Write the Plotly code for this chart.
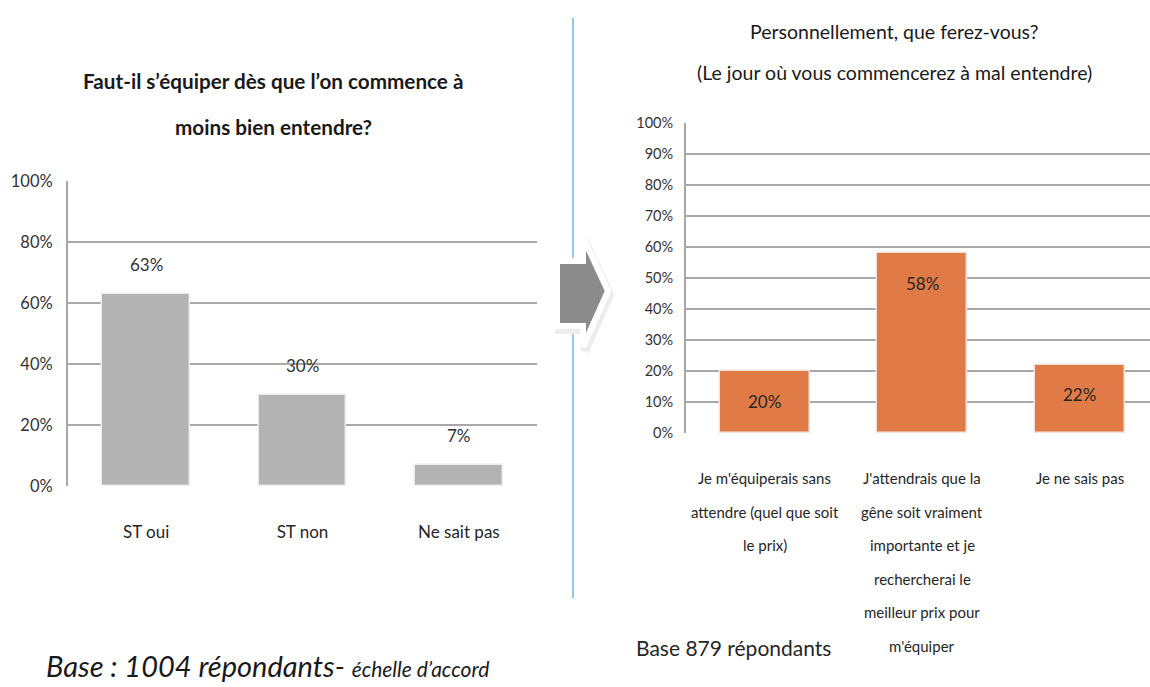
import plotly.graph_objects as go

W, H = 1150, 687
FONT = "Lato, Liberation Sans, sans-serif"

# left chart
q1_title = ["Faut-il s’équiper dès que l’on commence à", "moins bien entendre?"]
q1_categories = ["ST oui", "ST non", "Ne sait pas"]
q1_values = [63, 30, 7]
q1_ticks = [0, 20, 40, 60, 80, 100]
q1_note = "<i>Base : 1004 répondants- <span style='font-size:21px'>échelle d’accord</span></i>"

# right chart
q2_title = ["Personnellement, que ferez-vous?", "(Le jour où vous commencerez à mal entendre)"]
q2_categories = [
    "Je m'équiperais sans<br>attendre (quel que soit<br>le prix)",
    "J'attendrais que la<br>gêne soit vraiment<br>importante et je<br>rechercherai le<br>meilleur prix pour<br>m'équiper",
    "Je ne sais pas",
]
q2_values = [20, 58, 22]
q2_ticks = [0, 10, 20, 30, 40, 50, 60, 70, 80, 90, 100]
q2_note = "Base 879 répondants"


def fx(x):
    return x / W


def fy(y):
    return 1 - y / H


fig = go.Figure()

fig.add_trace(go.Bar(
    x=list(range(len(q1_values))), y=q1_values, width=0.56,
    marker=dict(color="#B3B3B3", line=dict(color="#EDEDED", width=1.5)),
    xaxis="x", yaxis="y", hoverinfo="skip",
))
fig.add_trace(go.Bar(
    x=list(range(len(q2_values))), y=q2_values, width=0.57,
    marker=dict(color="#E07B47", line=dict(color="#F3E3D9", width=1.5)),
    xaxis="x2", yaxis="y2", hoverinfo="skip",
))

grid = dict(showgrid=True, gridcolor="#A8A8A8", gridwidth=2, zeroline=False,
            showline=True, linecolor="#A8A8A8", linewidth=2, ticks="",
            fixedrange=True, automargin=False)

annotations = []
# titles
for i, line in enumerate(q1_title):
    annotations.append(dict(text=f"<b>{line}</b>", x=fx(273), y=fy(81 + 46 * i),
                            font=dict(size=20.7, color="#1A1A1A")))
for i, line in enumerate(q2_title):
    annotations.append(dict(text=line, x=fx(894), y=fy(32 + 40 * i),
                            font=dict(size=19.5, color="#1A1A1A")))
# value labels
for i, v in enumerate(q1_values):
    annotations.append(dict(text=f"{v}%", x=i, y=v, xref="x", yref="y", yshift=29,
                            font=dict(size=17, color="#333333")))
for i, v in enumerate(q2_values):
    annotations.append(dict(text=f"{v}%", x=i, y=v, xref="x2", yref="y2", yshift=-30,
                            font=dict(size=17, color="#262626")))
# right category labels, one line at a time for the loose line spacing
for i, cat in enumerate(q2_categories):
    for j, line in enumerate(cat.split("<br>")):
        annotations.append(dict(text=line, x=i, xref="x2", y=fy(478 + 33.5 * j),
                                font=dict(size=15, color="#262626")))
# notes
annotations.append(dict(text=q1_note, x=fx(44), y=fy(665), xanchor="left",
                        font=dict(size=29, color="#1A1A1A")))
annotations.append(dict(text=q2_note, x=fx(634), y=fy(647), xanchor="left",
                        font=dict(size=21, color="#262626")))

for a in annotations:
    a.setdefault("xref", "paper")
    a.setdefault("yref", "paper")
    a.setdefault("xanchor", "center")
    a.setdefault("yanchor", "middle")
    a["showarrow"] = False

# arrow between the charts
def path(pts):
    return "M " + " L ".join(f"{fx(x)},{fy(y)}" for x, y in pts) + " Z"

arrow = [(557, 261), (583, 261), (583, 237), (608, 291), (583, 347), (583, 326), (557, 326)]
shadow = [(x + 2, y + 4) for x, y in arrow]

shapes = [
    dict(type="line", xref="paper", yref="paper", x0=fx(573), x1=fx(573), y0=fy(18), y1=fy(598),
         line=dict(color="#6DB8E8", width=1.5), layer="below"),
    dict(type="path", xref="paper", yref="paper", path=path(shadow),
         fillcolor="#EDEDED", line=dict(color="#EDEDED", width=8)),
    dict(type="path", xref="paper", yref="paper", path=path(arrow),
         fillcolor="#8C8C8C", line=dict(color="white", width=6)),
]

fig.update_layout(
    width=W, height=H, autosize=False,
    margin=dict(l=0, r=0, t=0, b=0),
    paper_bgcolor="white", plot_bgcolor="white",
    showlegend=False, bargap=0,
    font=dict(family=FONT, color="#262626"),
    xaxis=dict(domain=[fx(68), fx(537)], range=[-0.5, 2.5], anchor="y",
               tickvals=list(range(len(q1_categories))), ticktext=q1_categories,
               tickfont=dict(size=17, color="#262626"), ticklabelstandoff=34,
               showgrid=False, zeroline=False, showline=False, ticks="",
               fixedrange=True, automargin=False),
    yaxis=dict(domain=[fy(486), fy(181)], range=[0, 100], anchor="x",
               tickvals=q1_ticks, ticktext=[f"{t}%" for t in q1_ticks],
               tickfont=dict(size=16.5, color="#333333"), ticklabelstandoff=10, **grid),
    xaxis2=dict(domain=[fx(686), 1], range=[-0.5, 2.446], anchor="y2",
                showticklabels=False, showgrid=False, zeroline=False, showline=False,
                ticks="", fixedrange=True, automargin=False),
    yaxis2=dict(domain=[fy(433), fy(123)], range=[0, 100], anchor="x2",
                tickvals=q2_ticks, ticktext=[f"{t}%" for t in q2_ticks],
                tickfont=dict(size=14.5, color="#333333"), ticklabelstandoff=8, **grid),
    annotations=annotations,
    shapes=shapes,
)

# the page's default body margin would push the figure 8px down and right
fig.write_html("out.html", config={"displayModeBar": False},
               post_script="document.body.style.margin = '0';")
